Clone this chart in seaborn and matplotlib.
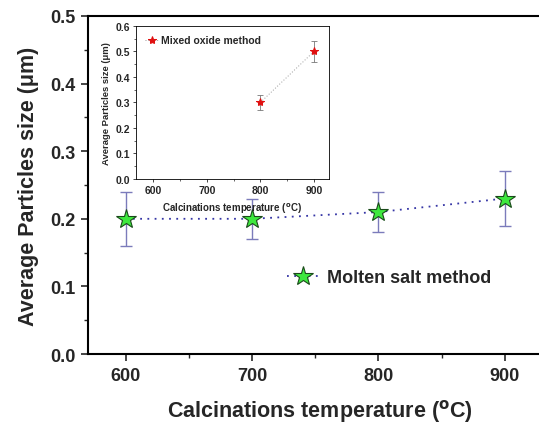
import numpy as np
import pandas as pd
import matplotlib
matplotlib.use("Agg")
import matplotlib.pyplot as plt
from matplotlib.ticker import MultipleLocator
import seaborn as sns

# -----------------------------------
# Data
# -----------------------------------
molten_temp = [600, 700, 800, 900]
molten_size = [0.20, 0.20, 0.21, 0.23]
molten_err = [0.04, 0.03, 0.03, 0.04]

oxide_temp = [800, 900]
oxide_size = [0.30, 0.50]
oxide_err = [0.03, 0.04]

molten = pd.DataFrame({"temp": molten_temp, "size": molten_size, "err": molten_err})
oxide = pd.DataFrame({"temp": oxide_temp, "size": oxide_size, "err": oxide_err})

# -----------------------------------
# Setup
# -----------------------------------
sns.set_style("ticks")
plt.rcParams["font.family"] = ["Liberation Sans", "DejaVu Sans"]
plt.rcParams["font.weight"] = "bold"
plt.rcParams["axes.labelweight"] = "bold"
plt.rcParams["mathtext.default"] = "bf"

fig = plt.figure(figsize=(5.39, 4.27), dpi=100)
ax = fig.add_axes([0.163, 0.1686, 0.86, 0.7916])

# -----------------------------------
# Main plot: molten salt method
# -----------------------------------
ax.errorbar(molten["temp"], molten["size"], yerr=molten["err"], fmt="none",
            ecolor="#7b7bbb", elinewidth=1.0, capsize=4, capthick=1.0, zorder=2)
sns.lineplot(data=molten, x="temp", y="size", ax=ax, color="#3535a5",
             linestyle=(0, (1, 3)), linewidth=1.3, marker="*", markersize=15,
             markerfacecolor="#3ee83e", markeredgecolor="#1a4a1a",
             markeredgewidth=0.8, label="Molten salt method", zorder=3)

ax.set_xlim(570, 937)
ax.set_ylim(0, 0.5)
ax.xaxis.set_major_locator(MultipleLocator(100))
ax.xaxis.set_minor_locator(MultipleLocator(50))
ax.yaxis.set_major_locator(MultipleLocator(0.1))
ax.yaxis.set_minor_locator(MultipleLocator(0.05))
ax.yaxis.set_major_formatter(matplotlib.ticker.FormatStrFormatter("%.1f"))
ax.tick_params(which="major", direction="out", length=5, width=1.2,
               labelsize=13, pad=4)
ax.tick_params(which="minor", direction="out", length=3, width=1.0)
for lab in ax.get_xticklabels() + ax.get_yticklabels():
    lab.set_fontweight("bold")
for s in ["left", "bottom", "top"]:
    ax.spines[s].set_linewidth(1.5)
    ax.spines[s].set_color("black")
ax.spines["right"].set_visible(False)
ax.tick_params(top=False)

ax.set_xlabel("Calcinations temperature ($^{o}$C)", fontsize=15.5,
              fontweight="bold", labelpad=10)
ax.set_ylabel("Average Particles size (\u03bcm)", fontsize=15.5,
              fontweight="bold", labelpad=8)

leg = ax.legend(loc="center left", bbox_to_anchor=(0.395, 0.225), frameon=False,
                handlelength=1.8, handletextpad=0.4,
                prop={"weight": "bold", "size": 13})

# -----------------------------------
# Inset: mixed oxide method
# -----------------------------------
ins = fig.add_axes([0.2523, 0.5785, 0.358, 0.3583])
ins.errorbar(oxide["temp"], oxide["size"], yerr=oxide["err"], fmt="none",
             ecolor="#777777", elinewidth=0.6, capsize=2, capthick=0.6, zorder=2)
sns.lineplot(data=oxide, x="temp", y="size", ax=ins, color="#999999",
             linestyle=(0, (1, 2)), linewidth=0.7, marker="*", markersize=6,
             markerfacecolor="#e01010", markeredgecolor="#e01010",
             label="Mixed oxide method", zorder=3)
ins.set_xlim(568, 928)
ins.set_ylim(0, 0.6)
ins.xaxis.set_major_locator(MultipleLocator(100))
ins.xaxis.set_minor_locator(MultipleLocator(50))
ins.yaxis.set_major_locator(MultipleLocator(0.1))
ins.yaxis.set_minor_locator(MultipleLocator(0.05))
ins.yaxis.set_major_formatter(matplotlib.ticker.FormatStrFormatter("%.1f"))
ins.tick_params(which="major", direction="out", length=2.5, width=0.6,
                labelsize=7.5, pad=2)
ins.tick_params(which="minor", direction="out", length=1.5, width=0.5)
for lab in ins.get_xticklabels() + ins.get_yticklabels():
    lab.set_fontweight("bold")
for s in ins.spines.values():
    s.set_linewidth(0.6)
    s.set_color("black")
ins.set_xlabel("Calcinations temperature ($^{o}$C)", fontsize=7,
               fontweight="bold", labelpad=4)
ins.set_ylabel("Average Particles size (\u03bcm)", fontsize=6.8,
               fontweight="bold", labelpad=3)
ins.legend(loc="upper left", frameon=False, handlelength=1.2,
           handletextpad=0.3, prop={"weight": "bold", "size": 7.5})

fig.savefig("out.png", dpi=100)
plt.close(fig)
